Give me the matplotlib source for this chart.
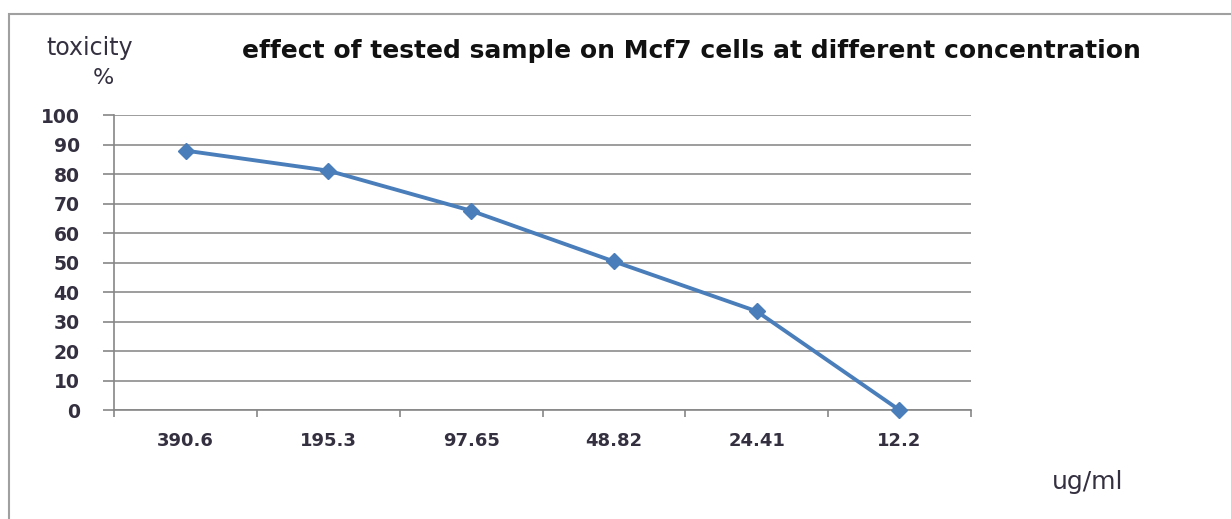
import matplotlib
matplotlib.use("Agg")
import matplotlib.pyplot as plt
from matplotlib.patches import Rectangle
import numpy as np

# concentrations (ug/ml) and toxicity (%)
concentrations = ["390.6", "195.3", "97.65", "48.82", "24.41", "12.2"]
toxicity = [88, 81.2, 67.6, 50.4, 33.5, 0]

plt.rcParams['font.family'] = ['DejaVu Sans']

fig = plt.figure(figsize=(12.31, 5.19), dpi=100)
ax = fig.add_axes([0.0929, 0.210, 0.6957, 0.5679])

# outer chart frame
fig.patches.append(Rectangle((9 / 1231, -0.1), 1.2, (519 - 14) / 519 + 0.1,
                             transform=fig.transFigure, fill=False,
                             edgecolor="#a0a0a0", linewidth=1.5))

x = np.arange(len(concentrations))
ax.plot(x, toxicity, color="#4a7ebb", linewidth=2.8, marker="D",
        markersize=8, zorder=3, clip_on=False)

ax.set_xlim(-0.5, len(concentrations) - 0.5)
ax.set_ylim(0, 100)
ax.set_yticks(np.arange(0, 101, 10))
ax.set_xticks(x)
ax.set_xticklabels(concentrations, fontweight="bold")
ax.set_yticklabels([str(v) for v in range(0, 101, 10)], fontweight="bold")
ax.set_xticks(np.arange(-0.5, len(concentrations)), minor=True)
ax.tick_params(axis="x", which="major", length=0, pad=16, labelsize=13, labelcolor="#353040")
ax.tick_params(axis="x", which="minor", length=5, width=1.2, color="#868686")
ax.tick_params(axis="y", length=8, width=1.2, color="#868686", labelsize=13.5,
               labelcolor="#353040", pad=17)

ax.grid(axis="y", color="#8c8c8c", linewidth=1.2)
ax.set_axisbelow(True)
for side in ["top", "right"]:
    ax.spines[side].set_visible(False)
for side in ["left", "bottom"]:
    ax.spines[side].set_color("#868686")
    ax.spines[side].set_linewidth(1.2)

fig.text(90 / 1231, 1 - 48 / 519, "toxicity", ha="center", va="center", fontsize=17, color="#353040")
fig.text(103 / 1231, 1 - 78 / 519, "%", ha="center", va="center", fontsize=16, color="#353040")
fig.text(691 / 1231, 1 - 51 / 519, "effect of tested sample on Mcf7 cells at different concentration",
         ha="center", va="center", fontsize=18, fontweight="bold", color="#111111")
fig.text(1088 / 1231, 1 - 482 / 519, "ug/ml", ha="center", va="center", fontsize=18, color="#353040")

fig.savefig("out.png", dpi=100)
